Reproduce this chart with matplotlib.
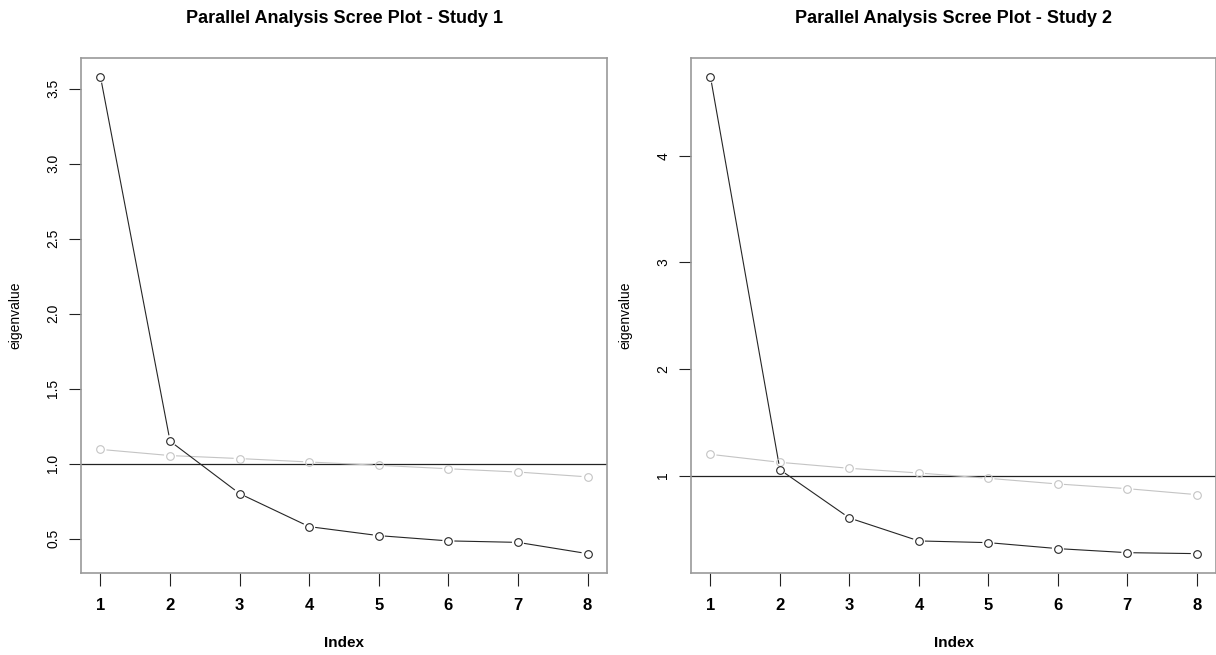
import matplotlib
matplotlib.use("Agg")
import matplotlib.pyplot as plt
import numpy as np

plt.rcParams['font.family'] = ['Liberation Sans', 'DejaVu Sans']

index = np.arange(1, 9)

# study 1: observed eigenvalues and mean simulated (parallel analysis) eigenvalues
obs1 = [3.58, 1.15, 0.80, 0.58, 0.52, 0.485, 0.475, 0.40]
sim1 = [1.095, 1.054, 1.034, 1.011, 0.989, 0.966, 0.944, 0.912]

# study 2
obs2 = [4.74, 1.056, 0.603, 0.388, 0.372, 0.316, 0.278, 0.269]
sim2 = [1.20, 1.125, 1.069, 1.025, 0.975, 0.922, 0.878, 0.822]

titles = ["Parallel Analysis Scree Plot - Study 1",
          "Parallel Analysis Scree Plot - Study 2"]
yticks1 = [0.5, 1.0, 1.5, 2.0, 2.5, 3.0, 3.5]
yticks2 = [1, 2, 3, 4]

fig = plt.figure(figsize=(12.16, 6.55), dpi=100)
ax1 = fig.add_axes([81 / 1216, 82.3 / 655, 526 / 1216, 515 / 655])
ax2 = fig.add_axes([691 / 1216, 82.3 / 655, 525.3 / 1216, 515 / 655])


def r_limits(vals):
    lo, hi = min(vals), max(vals)
    pad = 0.04 * (hi - lo)
    return lo - pad, hi + pad


def type_b(ax, x, y, color, gap=6.0):
    # lines with gaps around points, like R's type="b"
    trans = ax.transData
    inv = trans.inverted()
    pts = trans.transform(np.column_stack([x, y]))
    for p, q in zip(pts[:-1], pts[1:]):
        d = q - p
        n = np.hypot(*d)
        if n <= 2 * gap:
            continue
        u = d / n
        a = inv.transform(p + u * gap)
        b = inv.transform(q - u * gap)
        ax.plot([a[0], b[0]], [a[1], b[1]], color=color, lw=0.8,
                solid_capstyle='butt', zorder=3)
    ax.plot(x, y, 'o', ms=5.5, mfc='none', mec=color, mew=0.8, zorder=4)


def panel(ax, obs, sim, title, yticks, ylabels):
    ax.set_xlim(0.72, 8.28)
    ax.set_ylim(*r_limits(obs))
    ax.axhline(1, color='#222222', lw=0.9, zorder=2)
    type_b(ax, index, sim, '#c4c4c4')
    type_b(ax, index, obs, '#262626')
    for s in ax.spines.values():
        s.set_color('#9a9a9a')
        s.set_linewidth(1.2)
    ax.set_xticks(index)
    ax.set_xticklabels([str(i) for i in index], fontsize=12, fontweight='bold')
    ax.set_yticks(yticks)
    ax.set_yticklabels(ylabels, fontsize=10, rotation=90, va='center')
    ax.tick_params(axis='x', length=9, width=0.8, pad=9, color='#222222')
    ax.tick_params(axis='y', length=9, width=0.8, pad=6, color='#222222')
    ax.set_xlabel("Index", fontsize=11, fontweight='bold', labelpad=17)
    ax.set_ylabel("eigenvalue", fontsize=10, labelpad=17)
    ax.set_title(title, fontsize=13, fontweight='bold', pad=25)


panel(ax1, obs1, sim1, titles[0], yticks1, ["%.1f" % v for v in yticks1])
panel(ax2, obs2, sim2, titles[1], yticks2, [str(v) for v in yticks2])

fig.savefig("out.png", dpi=100, facecolor='white')
